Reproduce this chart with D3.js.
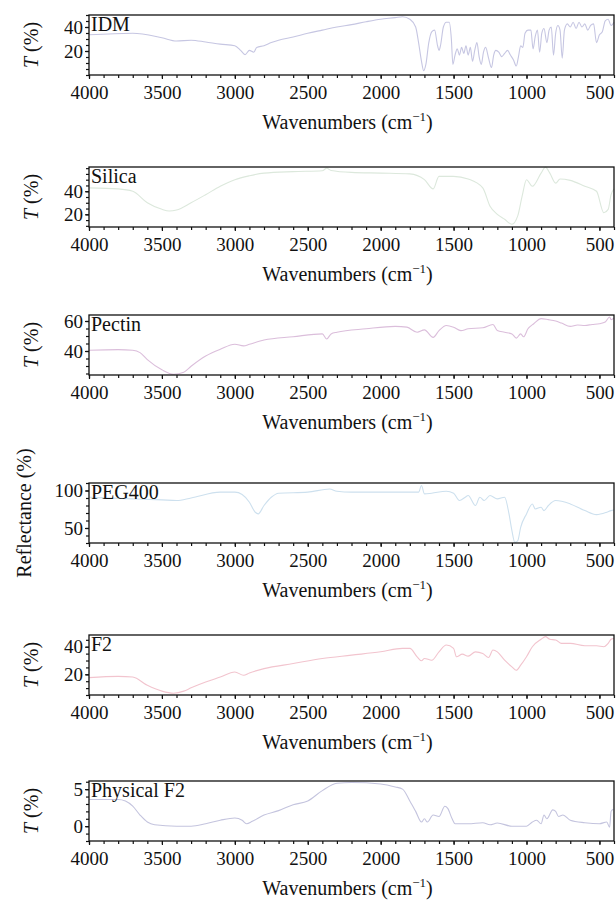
<!DOCTYPE html>
<html>
<head>
<meta charset="utf-8">
<script src="https://cdn.jsdelivr.net/npm/d3@7"></script>
<style>
  body { margin: 0; background: #fff; }
  svg text { font-family: "Liberation Serif", "DejaVu Serif", serif; fill: #111; }
  .box { fill: none; stroke: #111; stroke-width: 1.3; }
  .axis path { display: none; }
  .axis line { stroke: #111; stroke-width: 1.2; }
  .spectrum { fill: none; stroke-width: 1.1; stroke-linejoin: round; }
</style>
</head>
<body>
<script>
  // wavenumber (cm-1), transmittance / reflectance (%)
  const idm = [[4000,33.5],[3700,34.8],[3500,31],[3400,28.3],[3300,29],[3200,27.5],[3100,25.7],[3000,24.4],
    [2960,20.5],[2930,17],[2900,20.5],[2870,19],[2850,23],[2800,24.4],[2750,27],[2700,29],[2600,31.7],
    [2500,34.8],[2400,37.4],[2300,40],[2200,42],[2100,44.4],[2000,46.5],[1900,47.8],[1850,48.6],[1800,46.5],
    [1760,40],[1740,27],[1720,11.4],[1705,3.6],[1690,8.8],[1670,27],[1650,36],[1630,37.4],[1610,24.4],
    [1600,20.5],[1590,24.4],[1570,40],[1550,44],[1530,44],[1515,29.6],[1505,8.8],[1490,16.6],[1475,21.8],
    [1460,16.6],[1445,23],[1430,18],[1415,24.4],[1400,16.6],[1385,23],[1370,11.4],[1355,20.5],[1340,27],
    [1325,15.3],[1310,8.8],[1295,19],[1280,23],[1260,14],[1240,6.2],[1225,16.6],[1210,20.5],[1190,19],
    [1170,15.3],[1150,18],[1130,20.5],[1110,16.6],[1090,12.7],[1070,7.5],[1055,15.3],[1040,24.4],[1025,23],
    [1010,34.8],[990,37.4],[970,37.4],[955,21.8],[940,32.2],[925,37.4],[910,19],[895,34.8],[880,38.7],
    [860,27],[845,37.4],[830,40],[815,16.6],[800,34.8],[785,41.3],[770,37.4],[755,14],[740,37.4],[720,42.6],
    [700,40],[680,44],[660,38.7],[640,44],[620,40],[600,42.6],[580,37.4],[560,41.3],[540,42.6],[520,27],
    [500,33.5],[480,36],[460,45.2],[440,46.5],[420,41.3],[400,44]];

  const silica = [[4000,42.9],[3800,42],[3700,40],[3600,30],[3500,24.3],[3450,22.9],[3400,23.7],[3300,30],
    [3200,37],[3100,44.3],[3000,50],[2900,53.4],[2800,55.7],[2600,57],[2400,57.7],[2370,60],[2340,58],
    [2200,56.3],[2000,55.7],[1800,55],[1700,50],[1640,42],[1600,52.9],[1500,52.9],[1400,50.6],[1300,42.9],
    [1250,27],[1200,20],[1150,15.7],[1100,11.4],[1060,18.6],[1030,35.7],[1000,50],[960,44.3],[900,55.7],
    [870,60.9],[840,55.7],[800,47],[770,50.6],[700,49.4],[600,44.3],[520,40],[470,21.4],[440,24.3],[420,37],
    [400,42]];

  const pectin = [[4000,40.5],[3800,40.9],[3700,40.5],[3650,38.9],[3600,34.3],[3500,27.5],[3420,24.5],
    [3350,25.9],[3300,29.8],[3200,36.6],[3100,41.1],[3000,44.5],[2940,43.4],[2900,44.5],[2800,47.3],
    [2600,49.5],[2400,51.4],[2370,48],[2340,51.4],[2300,52.5],[2100,54.8],[1900,56.4],[1820,55.9],
    [1750,52.5],[1700,54.1],[1640,49.1],[1600,53.6],[1550,57],[1500,55.9],[1450,53.6],[1400,54.8],
    [1300,55.5],[1230,57.7],[1200,53.6],[1150,52.5],[1100,51.4],[1070,48.6],[1040,51.4],[1020,49.5],
    [990,54.8],[950,58.2],[900,61.6],[850,60.9],[800,60],[760,58.6],[700,56.4],[650,57.3],[600,57],
    [550,57.7],[500,58.2],[460,59.3],[430,62.7],[420,60.9],[400,62]];

  const peg400 = [[4000,91],[3700,88.8],[3500,87.5],[3400,86.6],[3300,90],[3100,97.8],[3000,97.8],
    [2950,94.6],[2900,84.4],[2860,71],[2840,68.8],[2800,80],[2750,91],[2700,96.4],[2500,97.8],[2350,102],
    [2300,99],[2200,97.8],[2000,97.8],[1800,97.8],[1740,97.8],[1720,106.7],[1700,95.5],[1650,96.4],
    [1550,99],[1500,96.4],[1460,86.6],[1420,91],[1400,93.3],[1350,80],[1320,91],[1290,86.6],[1250,93.3],
    [1200,88.8],[1150,91],[1120,68.8],[1100,46.4],[1080,30.8],[1060,33],[1040,50.9],[1000,68.8],
    [960,82.1],[940,75.4],[900,77.7],[880,73.2],[850,80],[800,86.6],[700,82.1],[600,73.2],[520,67.8],
    [450,71],[420,73.2],[400,74]];

  const f2 = [[4000,17.6],[3800,18.5],[3700,18],[3600,12],[3500,7.8],[3420,6.3],[3350,7.8],[3300,10.2],
    [3200,14.4],[3100,18],[3000,21.7],[2940,19.3],[2900,21],[2800,24.1],[2600,27.8],[2400,31.5],
    [2200,33.9],[2000,36.3],[1850,38.8],[1800,38.8],[1750,32.7],[1720,29.8],[1700,31.5],[1650,30.2],
    [1600,36.3],[1550,41.2],[1500,38.8],[1480,32.7],[1440,34.6],[1400,33.2],[1350,36.3],[1300,35.1],
    [1260,32.2],[1230,37.6],[1200,36.3],[1150,30.2],[1100,25.4],[1070,22.9],[1040,26.6],[1000,32.7],
    [960,40],[900,45.4],[870,47.3],[840,45.4],[800,44.9],[760,42.4],[700,42.4],[600,40.7],[520,40.7],
    [470,40],[440,42.4],[420,45.4],[400,46]];

  const physicalF2 = [[4000,3.6],[3800,3.6],[3750,3.4],[3700,2.7],[3650,1.5],[3600,0.56],[3550,0.19],
    [3400,0],[3300,0],[3200,0.33],[3100,0.8],[3000,1.1],[2950,0.8],[2920,0.33],[2880,0.65],[2800,1.5],
    [2700,2.1],[2600,2.9],[2500,3.4],[2400,4.8],[2300,5.8],[2200,5.9],[2000,5.7],[1900,5.3],[1850,5],
    [1800,3.4],[1760,2],[1720,0.56],[1700,1],[1680,0.56],[1640,1.5],[1600,1.3],[1560,2.7],[1540,2.4],
    [1510,1],[1490,0.33],[1400,0.33],[1300,0.47],[1250,0.19],[1200,0.42],[1100,0],[1000,0],[960,0.56],
    [930,0.8],[900,0.33],[880,1.5],[860,1],[820,2.2],[800,2],[780,1.3],[750,1.5],[700,0.8],[600,0.47],
    [500,0.33],[450,0.56],[430,-0.14],[420,2],[405,2.3]];

  const xTicks = [4000, 3500, 3000, 2500, 2000, 1500, 1000, 500];

  const panels = [
    { name: 'IDM', data: idm, y: [0, 50], ticks: [20, 40], minor: 5, label: 'T', color: '#c6c6e2' },
    { name: 'Silica', data: silica, y: [9, 61], ticks: [20, 40], minor: 5, label: 'T', color: '#dce8dc' },
    { name: 'Pectin', data: pectin, y: [24, 64], ticks: [40, 60], minor: 5, label: 'T', color: '#dbbedb' },
    { name: 'PEG400', data: peg400, y: [30, 110], ticks: [50, 100], minor: 10, label: 'Reflectance', color: '#cde0ee' },
    { name: 'F2', data: f2, y: [5, 48.5], ticks: [20, 40], minor: 5, label: 'T', color: '#f2c4ce' },
    { name: 'Physical F2', data: physicalF2, y: [-2, 6.1], ticks: [0, 5], minor: 1, label: 'T', color: '#c4c4de' }
  ];

  const W = 616, H = 901;
  const left = 89, right = 614;
  const tops = [15, 167, 315, 483, 635, 781];
  const boxH = 60;
  const fs = '20px';
  const tickFs = '19px';

  const svg = d3.select('body').append('svg')
    .attr('width', W)
    .attr('height', H);

  const x = d3.scaleLinear().domain([4000, 400]).range([left, right]);

  panels.forEach(function(p, i) {
    let top = tops[i];
    let g = svg.append('g').attr('transform', 'translate(0,' + top + ')');

    let y = d3.scaleLinear().domain(p.y).range([boxH, 0]);

    // 曲线
    let line = d3.line()
      .x(function(d) { return x(d[0]); })
      .y(function(d) { return y(d[1]); })
      .curve(d3.curveMonotoneX);

    g.append('path')
      .datum(p.data.slice().reverse())
      .attr('class', 'spectrum')
      .attr('stroke', p.color)
      .attr('d', line);

    // x axis: minor every 100, labels on 500s
    let xMinor = d3.range(400, 4001, 100);
    g.append('g')
      .attr('class', 'axis')
      .attr('transform', 'translate(0,' + boxH + ')')
      .call(d3.axisBottom(x).tickValues(xMinor).tickSize(3).tickFormat(''));
    g.append('g')
      .attr('class', 'axis')
      .attr('transform', 'translate(0,' + boxH + ')')
      .call(d3.axisBottom(x).tickValues(xTicks).tickSize(4).tickPadding(7).tickFormat(d3.format('d')))
      .selectAll('text')
      .style('font-size', tickFs);

    // y axis
    let yMinor = d3.range(Math.ceil(p.y[0] / p.minor) * p.minor, p.y[1] + 0.001, p.minor);
    g.append('g')
      .attr('class', 'axis')
      .attr('transform', 'translate(' + left + ',0)')
      .call(d3.axisLeft(y).tickValues(yMinor).tickSize(3).tickFormat(''));
    g.append('g')
      .attr('class', 'axis')
      .attr('transform', 'translate(' + left + ',0)')
      .call(d3.axisLeft(y).tickValues(p.ticks).tickSize(4).tickPadding(2).tickFormat(d3.format('d')))
      .selectAll('text')
      .style('font-size', tickFs);

    g.append('rect')
      .attr('class', 'box')
      .attr('x', left)
      .attr('y', 0)
      .attr('width', right - left)
      .attr('height', boxH);

    g.append('text')
      .attr('x', left + 2)
      .attr('y', 16)
      .style('font-size', fs)
      .text(p.name);

    // y label
    let yl = g.append('text')
      .attr('transform', 'translate(' + (p.label === 'T' ? 38 : 31) + ',' + (boxH / 2) + ') rotate(-90)')
      .attr('text-anchor', 'middle')
      .style('font-size', fs);
    if (p.label === 'T') {
      yl.append('tspan').style('font-style', 'italic').text('T');
      yl.append('tspan').text(' (%)');
    } else {
      yl.text('Reflectance (%)');
    }

    // x label
    let xl = g.append('text')
      .attr('x', (left + right) / 2 - 4)
      .attr('y', boxH + 54)
      .attr('text-anchor', 'middle')
      .style('font-size', fs);
    xl.append('tspan').text('Wavenumbers (cm');
    xl.append('tspan').attr('dy', -8).style('font-size', '13px').text('\u22121');
    xl.append('tspan').attr('dy', 8).text(')');
  });
</script>
</body>
</html>
